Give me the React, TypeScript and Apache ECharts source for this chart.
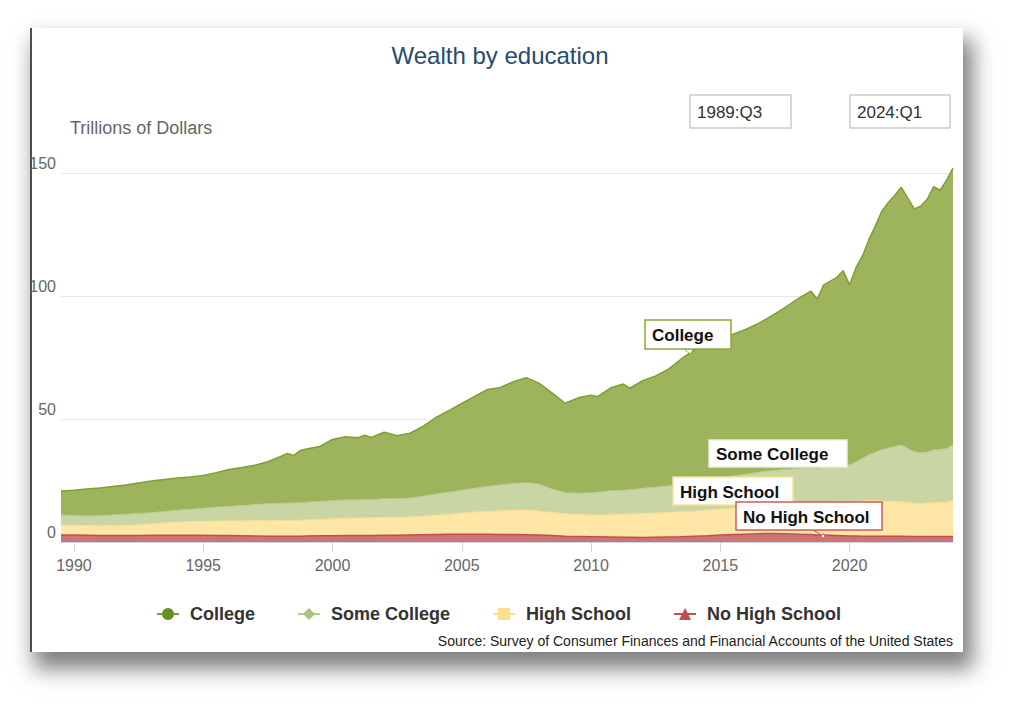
import React, { useEffect, useRef } from "react";
import * as echarts from "echarts";

const FONT = '"Liberation Sans", Arial, Helvetica, sans-serif';

// Decimal years of the readings (1989:Q3 .. 2024:Q1)
const years = [
  1989.5, 1990, 1990.5, 1991, 1991.5, 1992, 1992.5, 1993, 1993.5, 1994,
  1994.5, 1995, 1995.5, 1996, 1996.5, 1997, 1997.5, 1998, 1998.25, 1998.5,
  1998.75, 1999, 1999.5, 2000, 2000.5, 2001, 2001.25, 2001.5, 2002, 2002.5,
  2003, 2003.5, 2004, 2004.5, 2005, 2005.5, 2006, 2006.5, 2007, 2007.5,
  2008, 2008.5, 2009, 2009.5, 2010, 2010.25, 2010.75, 2011.25, 2011.5, 2012,
  2012.5, 2013, 2013.5, 2014, 2014.5, 2015, 2015.5, 2016, 2016.5, 2017,
  2017.5, 2018, 2018.5, 2018.75, 2019, 2019.5, 2019.75, 2020, 2020.25, 2020.5,
  2020.75, 2021, 2021.25, 2021.5, 2021.75, 2022, 2022.5, 2022.75, 2023, 2023.25,
  2023.5, 2023.75, 2024,
];

// Trillions of dollars (each group's own wealth; the chart stacks them)
const college = [
  9.7, 10.2, 10.9, 11.3, 11.6, 11.9, 12.4, 12.9, 13.0, 13.1,
  13.1, 13.3, 14.0, 15.0, 15.5, 16.0, 17.1, 19.1, 20.2, 19.3,
  21.2, 21.6, 22.3, 24.9, 25.7, 25.3, 26.1, 25.3, 27.0, 25.6,
  26.3, 28.4, 31.1, 33.2, 35.3, 37.4, 39.4, 39.6, 41.4, 42.7,
  41.0, 39.0, 36.4, 38.8, 39.7, 38.9, 41.8, 43.2, 41.3, 43.8,
  45.2, 47.5, 51.2, 54.0, 55.5, 56.5, 57.7, 59.0, 60.6, 63.0,
  65.8, 69.0, 71.8, 69.0, 73.9, 76.1, 78.5, 73.2, 79.0, 82.3,
  87.5, 92.0, 97.0, 99.7, 102.2, 104.8, 98.7, 100.2, 102.8, 107.0,
  105.4, 109.0, 112.6,
];
const someCollege = [
  4.1, 4.0, 3.9, 4.1, 4.4, 4.6, 4.6, 4.5, 4.6, 4.8,
  5.0, 5.3, 5.7, 5.9, 6.2, 6.5, 6.8, 6.9, 7.0, 7.1,
  7.1, 7.2, 7.3, 7.3, 7.4, 7.3, 7.4, 7.3, 7.6, 7.6,
  7.7, 8.1, 8.6, 8.9, 9.2, 9.6, 10.1, 10.5, 10.9, 11.1,
  10.9, 9.5, 8.5, 8.6, 9.0, 9.2, 9.7, 9.7, 9.8, 10.2,
  10.5, 10.7, 11.0, 11.4, 12.0, 12.6, 13.0, 13.4, 13.9, 14.2,
  14.4, 14.4, 14.5, 14.3, 14.6, 15.1, 15.3, 15.1, 16.0, 17.3,
  18.7, 19.6, 20.7, 21.7, 22.3, 23.0, 20.9, 20.6, 20.6, 21.4,
  21.6, 21.7, 22.6,
];
const highSchool = [
  4.1, 4.0, 4.0, 4.0, 4.0, 4.1, 4.4, 4.7, 5.1, 5.4,
  5.6, 5.7, 5.9, 6.0, 6.1, 6.3, 6.4, 6.5, 6.5, 6.5,
  6.6, 6.6, 6.7, 7.0, 7.1, 7.2, 7.3, 7.3, 7.3, 7.3,
  7.4, 7.6, 7.9, 8.2, 8.7, 9.1, 9.4, 9.7, 9.9, 10.1,
  9.8, 9.4, 9.2, 9.0, 8.9, 8.9, 9.1, 9.4, 9.5, 9.8,
  9.9, 10.1, 10.2, 10.3, 10.5, 10.6, 10.8, 10.9, 11.1, 11.3,
  11.7, 12.2, 12.7, 12.7, 13.2, 13.7, 14.0, 13.8, 14.1, 14.4,
  14.5, 14.6, 14.5, 14.3, 14.2, 14.1, 13.6, 13.5, 13.7, 13.8,
  13.8, 14.1, 14.6,
];
const noHighSchool = [
  2.8, 2.8, 2.7, 2.6, 2.6, 2.6, 2.6, 2.7, 2.7, 2.7,
  2.7, 2.7, 2.6, 2.6, 2.5, 2.4, 2.3, 2.3, 2.3, 2.3,
  2.3, 2.4, 2.5, 2.5, 2.6, 2.6, 2.6, 2.6, 2.7, 2.7,
  2.8, 2.9, 3.0, 3.1, 3.1, 3.1, 3.1, 3.0, 3.0, 2.9,
  2.8, 2.6, 2.3, 2.2, 2.1, 2.1, 2.0, 1.9, 1.9, 1.8,
  1.9, 2.0, 2.1, 2.3, 2.5, 2.8, 3.0, 3.2, 3.4, 3.5,
  3.4, 3.2, 3.0, 2.8, 2.8, 2.6, 2.5, 2.4, 2.4, 2.3,
  2.3, 2.3, 2.3, 2.3, 2.3, 2.3, 2.2, 2.2, 2.2, 2.2,
  2.2, 2.2, 2.2,
];

const xTicks = [1990, 1995, 2000, 2005, 2010, 2015, 2020];
const yTicks = [0, 50, 100, 150];
const legendNames = ["College", "Some College", "High School", "No High School"];

export default function App() {
  const ref = useRef<HTMLDivElement>(null);

  useEffect(() => {
    const chart = echarts.init(ref.current!, null, { renderer: "svg" });

    // stacked tops: each layer fills from 0 to its cumulative total, drawn back to front
    const cum = (...arrs: number[][]) =>
      years.map((y, i) => [y, +arrs.reduce((s, a) => s + a[i], 0).toFixed(2)]);

    const mkSeries = (
      name: string,
      data: number[][],
      fill: string,
      line: string,
      lineW: number,
      marker: string,
      symbol: string
    ) => ({
      name,
      type: "line",
      data,
      symbol,
      showSymbol: false,
      clip: false,
      smooth: false,
      lineStyle: { color: line, width: lineW },
      itemStyle: { color: marker },
      areaStyle: { color: fill, opacity: 1, origin: "start" },
      emphasis: { disabled: true },
    });

    const box = (
      x: number,
      y: number,
      w: number,
      h: number,
      stroke: string,
      text: string,
      bold: boolean,
      size: number
    ) => [
      {
        type: "rect",
        shape: { x, y, width: w, height: h },
        style: { fill: "#ffffff", stroke, lineWidth: 1.5 },
        z: 100,
      },
      {
        type: "text",
        x: x + 7,
        y: y + h / 2 + 1,
        style: {
          text,
          font: `${bold ? "bold " : ""}${size}px ${FONT}`,
          fill: bold ? "#111111" : "#333333",
          textAlign: "left",
          textVerticalAlign: "middle",
        },
        z: 101,
      },
    ];

    chart.setOption({
      animation: false,
      backgroundColor: "transparent",
      textStyle: { fontFamily: FONT },
      grid: { left: 61, right: 71, top: 173, bottom: 169, containLabel: false },
      xAxis: {
        type: "value",
        min: 1989.5,
        max: 2024,
        splitLine: { show: false },
        axisLine: { show: true, lineStyle: { color: "#ccd6eb", width: 1 } },
        axisTick: {
          show: true,
          customValues: xTicks,
          length: 10,
          lineStyle: { color: "#ccd6eb", width: 1 },
        },
        axisLabel: {
          customValues: xTicks,
          formatter: (v: number) => String(v),
          color: "#666666",
          fontSize: 16,
          fontFamily: FONT,
          margin: 15,
        },
      },
      yAxis: {
        type: "value",
        min: 0,
        max: 150,
        interval: 50,
        axisLine: { show: false },
        axisTick: { show: false },
        splitLine: { show: true, lineStyle: { color: "#e6e6e6", width: 1 } },
        axisLabel: {
          color: "#666666",
          fontSize: 16,
          fontFamily: FONT,
          margin: 5,
          verticalAlign: "bottom",
          padding: [0, 0, 2, 0],
          formatter: (v: number) => (yTicks.includes(v) ? String(v) : ""),
        },
      },
      legend: {
        data: legendNames,
        left: 151,
        top: 600,
        itemWidth: 22,
        itemHeight: 15,
        itemGap: 42,
        selectedMode: false,
        textStyle: {
          fontFamily: FONT,
          fontSize: 18,
          fontWeight: "bold",
          color: "#333333",
          padding: [0, 0, 0, 6],
        },
      },
      series: [
        mkSeries(
          "College",
          cum(noHighSchool, highSchool, someCollege, college),
          "#9db45c",
          "#7f9e34",
          1.5,
          "#6b8e23",
          "circle"
        ),
        mkSeries(
          "Some College",
          cum(noHighSchool, highSchool, someCollege),
          "#c8d5a5",
          "#bccd95",
          1,
          "#a9c47f",
          "diamond"
        ),
        mkSeries(
          "High School",
          cum(noHighSchool, highSchool),
          "#fde6a6",
          "#fcdc8a",
          1,
          "#fde08f",
          "rect"
        ),
        mkSeries(
          "No High School",
          cum(noHighSchool),
          "#cd7474",
          "#c0504d",
          1.5,
          "#c0504d",
          "triangle"
        ),
      ],
      graphic: {
        elements: [
          {
            type: "text",
            x: 500,
            y: 55,
            style: {
              text: "Wealth by education",
              font: `24px ${FONT}`,
              fill: "#274b6d",
              textAlign: "center",
              textVerticalAlign: "middle",
            },
          },
          {
            type: "text",
            x: 70,
            y: 128,
            style: {
              text: "Trillions of Dollars",
              font: `18px ${FONT}`,
              fill: "#666666",
              textAlign: "left",
              textVerticalAlign: "middle",
            },
          },
          ...box(690, 95, 101, 33, "#cccccc", "1989:Q3", false, 17),
          ...box(850, 95, 100, 33, "#cccccc", "2024:Q1", false, 17),
          // annotations
          {
            type: "polygon",
            shape: { points: [[684, 349], [694, 349], [690, 354]] },
            style: { fill: "#ffffff", stroke: "#8aab3c", lineWidth: 1 },
            z: 99,
          },
          ...box(645, 320, 86, 29, "#8aab3c", "College", true, 17),
          ...box(709, 440, 138, 27, "#e9efdc", "Some College", true, 17),
          ...box(673, 477, 120, 28, "#fde08f", "High School", true, 17),
          {
            type: "line",
            shape: { x1: 813, y1: 530, x2: 823, y2: 536 },
            style: { stroke: "#c0504d", lineWidth: 1 },
            z: 99,
          },
          {
            type: "circle",
            shape: { cx: 823, cy: 536, r: 2 },
            style: { fill: "#ffffff", stroke: "#c0504d", lineWidth: 1 },
            z: 99,
          },
          ...box(736, 502, 146, 28, "#c9605c", "No High School", true, 17),
          {
            type: "text",
            x: 953,
            y: 641,
            style: {
              text: "Source: Survey of Consumer Finances and Financial Accounts of the United States",
              font: `14px ${FONT}`,
              fill: "#222222",
              textAlign: "right",
              textVerticalAlign: "middle",
            },
          },
        ],
      },
    });

    return () => chart.dispose();
  }, []);

  return (
    <div
      style={{
        position: "absolute",
        left: 0,
        top: 0,
        width: 1024,
        height: 711,
        background: "#ffffff",
        overflow: "hidden",
      }}
    >
      <div
        style={{
          position: "absolute",
          left: 30,
          top: 28,
          width: 933,
          height: 624,
          background: "#ffffff",
          boxSizing: "border-box",
          borderLeft: "2px solid #4d4d4d",
          boxShadow: "7px 14px 20px 3px rgba(0,0,0,0.5)",
        }}
      />
      <div
        ref={ref}
        style={{ position: "absolute", left: 0, top: 0, width: 1024, height: 711 }}
      />
    </div>
  );
}
